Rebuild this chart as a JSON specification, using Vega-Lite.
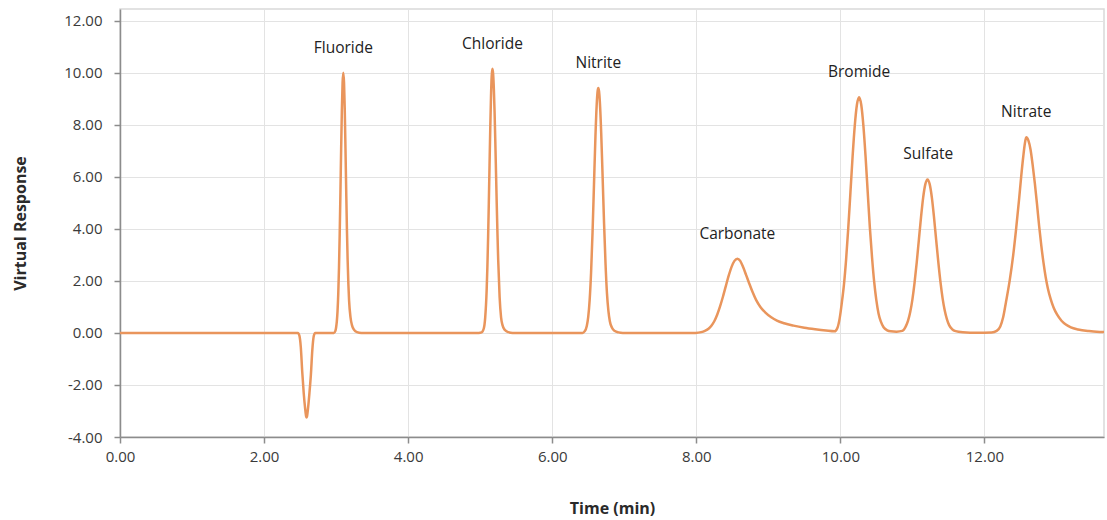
{
  "$schema": "https://vega.github.io/schema/vega-lite/v6.json",
  "autosize": "none",
  "width": 984,
  "height": 428,
  "padding": {"left": 120, "top": 9, "right": 3, "bottom": 83},
  "background": "white",
  "config": {
    "font": "Open Sans",
    "view": {"stroke": "#d9d9d9", "strokeWidth": 1.5},
    "axis": {
      "gridColor": "#e3e3e3",
      "gridWidth": 1,
      "domainColor": "#8c8c8c",
      "domainWidth": 1.5,
      "tickColor": "#8c8c8c",
      "tickWidth": 1.5,
      "tickSize": 6,
      "labelFont": "Open Sans",
      "labelFontSize": 15,
      "labelColor": "#3a3a3a",
      "labelFlush": false,
      "titleFont": "Open Sans",
      "titleFontSize": 16,
      "titleFontWeight": "bold",
      "titleColor": "#2a2a2a"
    }
  },
  "datasets": {
    "trace": [
      {"t": 0, "r": 0}, {"t": 1.0, "r": 0}, {"t": 2.0, "r": 0}, {"t": 2.47, "r": 0},
      {"t": 2.49, "r": -0.1}, {"t": 2.51, "r": -0.55}, {"t": 2.53, "r": -1.5}, {"t": 2.55, "r": -2.3},
      {"t": 2.57, "r": -2.9}, {"t": 2.585, "r": -3.22}, {"t": 2.59, "r": -3.25}, {"t": 2.595, "r": -3.22},
      {"t": 2.61, "r": -2.9}, {"t": 2.63, "r": -2.3}, {"t": 2.65, "r": -1.6}, {"t": 2.67, "r": -0.65},
      {"t": 2.69, "r": -0.12}, {"t": 2.71, "r": 0}, {"t": 2.97, "r": 0},
      {"t": 2.99, "r": 0.08}, {"t": 3.00, "r": 0.21}, {"t": 3.01, "r": 0.44}, {"t": 3.02, "r": 0.85},
      {"t": 3.03, "r": 1.51}, {"t": 3.04, "r": 2.49}, {"t": 3.05, "r": 3.81}, {"t": 3.06, "r": 5.39},
      {"t": 3.07, "r": 7.07}, {"t": 3.08, "r": 8.57}, {"t": 3.09, "r": 9.62}, {"t": 3.10, "r": 10.0},
      {"t": 3.11, "r": 9.62}, {"t": 3.12, "r": 8.6}, {"t": 3.13, "r": 7.1}, {"t": 3.14, "r": 5.5},
      {"t": 3.15, "r": 4.0}, {"t": 3.16, "r": 2.8}, {"t": 3.17, "r": 1.9}, {"t": 3.18, "r": 1.25},
      {"t": 3.20, "r": 0.6}, {"t": 3.22, "r": 0.3}, {"t": 3.25, "r": 0.12}, {"t": 3.29, "r": 0.03},
      {"t": 3.35, "r": 0}, {"t": 4.0, "r": 0}, {"t": 4.98, "r": 0},
      {"t": 5.02, "r": 0.02}, {"t": 5.05, "r": 0.17}, {"t": 5.07, "r": 0.6}, {"t": 5.09, "r": 1.65},
      {"t": 5.10, "r": 2.53}, {"t": 5.11, "r": 3.66}, {"t": 5.12, "r": 4.99}, {"t": 5.13, "r": 6.45},
      {"t": 5.14, "r": 7.86}, {"t": 5.15, "r": 9.06}, {"t": 5.16, "r": 9.87}, {"t": 5.17, "r": 10.15},
      {"t": 5.18, "r": 9.95}, {"t": 5.19, "r": 9.37}, {"t": 5.20, "r": 8.48}, {"t": 5.21, "r": 7.37},
      {"t": 5.22, "r": 6.16}, {"t": 5.23, "r": 4.94}, {"t": 5.24, "r": 3.81}, {"t": 5.25, "r": 2.82},
      {"t": 5.27, "r": 1.37}, {"t": 5.29, "r": 0.6}, {"t": 5.31, "r": 0.3}, {"t": 5.34, "r": 0.12},
      {"t": 5.39, "r": 0.03}, {"t": 5.45, "r": 0}, {"t": 6.0, "r": 0}, {"t": 6.42, "r": 0},
      {"t": 6.45, "r": 0.06}, {"t": 6.48, "r": 0.27}, {"t": 6.50, "r": 0.62}, {"t": 6.52, "r": 1.27},
      {"t": 6.54, "r": 2.35}, {"t": 6.56, "r": 3.87}, {"t": 6.58, "r": 5.71}, {"t": 6.60, "r": 7.54},
      {"t": 6.62, "r": 8.9}, {"t": 6.63, "r": 9.28}, {"t": 6.64, "r": 9.41}, {"t": 6.65, "r": 9.29},
      {"t": 6.66, "r": 8.95}, {"t": 6.68, "r": 7.69}, {"t": 6.70, "r": 5.98}, {"t": 6.72, "r": 4.2},
      {"t": 6.74, "r": 2.67}, {"t": 6.76, "r": 1.53}, {"t": 6.78, "r": 0.85}, {"t": 6.80, "r": 0.45},
      {"t": 6.83, "r": 0.2}, {"t": 6.87, "r": 0.07}, {"t": 6.92, "r": 0.02}, {"t": 6.98, "r": 0},
      {"t": 7.5, "r": 0}, {"t": 7.99, "r": 0},
      {"t": 8.07, "r": 0.03}, {"t": 8.12, "r": 0.08}, {"t": 8.17, "r": 0.16}, {"t": 8.21, "r": 0.28},
      {"t": 8.25, "r": 0.45}, {"t": 8.29, "r": 0.7}, {"t": 8.33, "r": 1.02}, {"t": 8.37, "r": 1.39},
      {"t": 8.41, "r": 1.8}, {"t": 8.45, "r": 2.2}, {"t": 8.49, "r": 2.54}, {"t": 8.53, "r": 2.77},
      {"t": 8.57, "r": 2.85}, {"t": 8.61, "r": 2.77}, {"t": 8.65, "r": 2.53}, {"t": 8.69, "r": 2.24},
      {"t": 8.73, "r": 1.94}, {"t": 8.78, "r": 1.58}, {"t": 8.83, "r": 1.27}, {"t": 8.89, "r": 1.0},
      {"t": 8.96, "r": 0.78}, {"t": 9.04, "r": 0.6}, {"t": 9.12, "r": 0.47}, {"t": 9.22, "r": 0.37},
      {"t": 9.35, "r": 0.28}, {"t": 9.50, "r": 0.2}, {"t": 9.65, "r": 0.14}, {"t": 9.80, "r": 0.09},
      {"t": 9.92, "r": 0.06},
      {"t": 9.96, "r": 0.2}, {"t": 9.99, "r": 0.55}, {"t": 10.02, "r": 1.15}, {"t": 10.05, "r": 1.86},
      {"t": 10.08, "r": 2.83}, {"t": 10.11, "r": 4.04}, {"t": 10.14, "r": 5.4}, {"t": 10.17, "r": 6.78},
      {"t": 10.20, "r": 7.96}, {"t": 10.23, "r": 8.77}, {"t": 10.26, "r": 9.06}, {"t": 10.29, "r": 8.77},
      {"t": 10.32, "r": 7.96}, {"t": 10.35, "r": 6.78}, {"t": 10.38, "r": 5.4}, {"t": 10.41, "r": 4.04},
      {"t": 10.44, "r": 2.9}, {"t": 10.47, "r": 1.95}, {"t": 10.50, "r": 1.25}, {"t": 10.53, "r": 0.75},
      {"t": 10.56, "r": 0.45}, {"t": 10.60, "r": 0.22}, {"t": 10.65, "r": 0.1}, {"t": 10.70, "r": 0.06},
      {"t": 10.78, "r": 0.05}, {"t": 10.86, "r": 0.08}, {"t": 10.91, "r": 0.26}, {"t": 10.94, "r": 0.47},
      {"t": 10.97, "r": 0.8}, {"t": 11.00, "r": 1.28}, {"t": 11.03, "r": 1.92}, {"t": 11.06, "r": 2.7},
      {"t": 11.09, "r": 3.58}, {"t": 11.12, "r": 4.45}, {"t": 11.15, "r": 5.21}, {"t": 11.18, "r": 5.72},
      {"t": 11.21, "r": 5.9}, {"t": 11.24, "r": 5.72}, {"t": 11.27, "r": 5.21}, {"t": 11.30, "r": 4.45},
      {"t": 11.33, "r": 3.58}, {"t": 11.36, "r": 2.72}, {"t": 11.39, "r": 1.95}, {"t": 11.42, "r": 1.32},
      {"t": 11.45, "r": 0.85}, {"t": 11.48, "r": 0.52}, {"t": 11.51, "r": 0.3}, {"t": 11.55, "r": 0.15},
      {"t": 11.60, "r": 0.07}, {"t": 11.70, "r": 0.03}, {"t": 11.90, "r": 0.01}, {"t": 12.10, "r": 0.02},
      {"t": 12.17, "r": 0.08}, {"t": 12.22, "r": 0.25}, {"t": 12.26, "r": 0.6}, {"t": 12.30, "r": 1.2},
      {"t": 12.35, "r": 2.0}, {"t": 12.40, "r": 3.0}, {"t": 12.44, "r": 4.0}, {"t": 12.48, "r": 5.1},
      {"t": 12.51, "r": 6.0}, {"t": 12.54, "r": 6.8}, {"t": 12.56, "r": 7.25}, {"t": 12.58, "r": 7.52},
      {"t": 12.61, "r": 7.4}, {"t": 12.64, "r": 7.05}, {"t": 12.67, "r": 6.45}, {"t": 12.70, "r": 5.75},
      {"t": 12.73, "r": 4.95}, {"t": 12.76, "r": 4.1}, {"t": 12.79, "r": 3.35}, {"t": 12.82, "r": 2.7},
      {"t": 12.85, "r": 2.15}, {"t": 12.88, "r": 1.72}, {"t": 12.92, "r": 1.3}, {"t": 12.96, "r": 0.98},
      {"t": 13.01, "r": 0.7}, {"t": 13.07, "r": 0.47}, {"t": 13.13, "r": 0.32}, {"t": 13.20, "r": 0.21},
      {"t": 13.30, "r": 0.13}, {"t": 13.45, "r": 0.07}, {"t": 13.60, "r": 0.04}, {"t": 13.70, "r": 0.03}
    ],
    "peaks": [
      {"ion": "Fluoride", "t": 3.10, "r": 10.0},
      {"ion": "Chloride", "t": 5.17, "r": 10.15},
      {"ion": "Nitrite", "t": 6.64, "r": 9.41},
      {"ion": "Carbonate", "t": 8.57, "r": 2.85},
      {"ion": "Bromide", "t": 10.26, "r": 9.06},
      {"ion": "Sulfate", "t": 11.22, "r": 5.9},
      {"ion": "Nitrate", "t": 12.58, "r": 7.52}
    ]
  },
  "encoding": {
    "x": {
      "field": "t", "type": "quantitative",
      "scale": {"domain": [0, 13.66], "nice": false, "zero": false},
      "axis": {
        "title": "Time (min)", "values": [0, 2, 4, 6, 8, 10, 12], "format": ".2f",
        "labelPadding": 6, "titleY": 71, "titleBaseline": "middle"
      }
    },
    "y": {
      "field": "r", "type": "quantitative",
      "scale": {"domain": [-4, 12.45], "nice": false, "zero": false},
      "axis": {
        "title": "Virtual Response", "values": [-4, -2, 0, 2, 4, 6, 8, 10, 12],
        "labelExpr": "(datum.value < 0 ? '-' : '') + format(abs(datum.value), '.2f')",
        "labelPadding": 12, "titleX": -100, "titleY": 214, "titleBaseline": "middle", "titleAlign": "center"
      }
    }
  },
  "layer": [
    {
      "data": {"name": "trace"},
      "mark": {"type": "line", "color": "#e9955c", "strokeWidth": 2.5, "interpolate": "monotone", "clip": true}
    },
    {
      "data": {"name": "peaks"},
      "mark": {"type": "text", "font": "Open Sans", "fontSize": 15.5, "color": "#222222", "dy": -25, "baseline": "middle", "align": "center"},
      "encoding": {"text": {"field": "ion", "type": "nominal"}}
    }
  ]
}
